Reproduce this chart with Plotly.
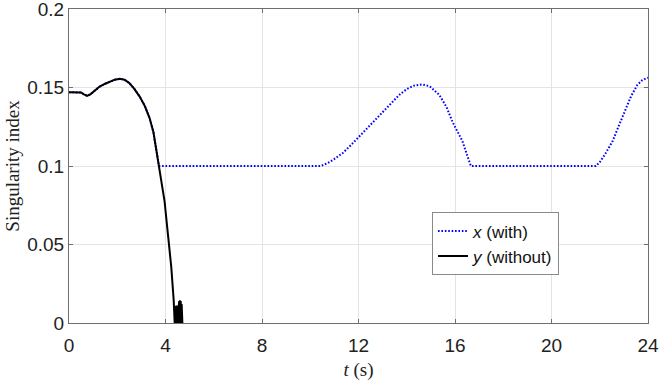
import plotly.graph_objects as go

# ---- data ----
# x (with): shared start, flat, hump, flat, rise
x_t = [0, 0.3, 0.5, 0.6, 0.75, 0.9, 1.1, 1.27, 1.5, 1.69, 1.9, 2.1, 2.3, 2.51, 2.7, 2.93,
       3.15, 3.34, 3.5, 3.6, 3.73,
       10.45, 10.8, 11.0, 11.35, 11.7, 12.04, 12.45, 12.87, 13.3, 13.69, 14.0, 14.3, 14.63,
       14.95, 15.35, 15.65, 15.9, 16.1, 16.31, 16.5, 16.66,
       21.84, 22.0, 22.2, 22.53, 22.8, 23.08, 23.3, 23.56, 23.75, 23.91, 24.0]
x_val = [0.147, 0.147, 0.1468, 0.1458, 0.1447, 0.1458, 0.1485, 0.1506, 0.1524, 0.1537, 0.155,
         0.1555, 0.155, 0.1527, 0.1493, 0.1442, 0.138, 0.1305, 0.1215, 0.112, 0.1,
         0.1, 0.1025, 0.1045, 0.1083, 0.1135, 0.1189, 0.1258, 0.1327, 0.1395, 0.1453, 0.149,
         0.1512, 0.152, 0.1508, 0.1453, 0.1375, 0.128, 0.1215, 0.1157, 0.107, 0.1,
         0.1, 0.1025, 0.107, 0.1157, 0.126, 0.1368, 0.1445, 0.1517, 0.1545, 0.1558, 0.1562]

# y (without): same start, then falls to zero and chatters near zero
y_t = [0, 0.3, 0.5, 0.6, 0.75, 0.9, 1.1, 1.27, 1.5, 1.69, 1.9, 2.1, 2.3, 2.51, 2.7, 2.93,
       3.15, 3.34, 3.5, 3.6, 3.73, 3.86, 3.96, 4.1, 4.24, 4.34, 4.38,
       4.39, 4.40, 4.41, 4.42, 4.43, 4.44, 4.45, 4.46, 4.47, 4.48, 4.49, 4.50, 4.51, 4.52,
       4.53, 4.54, 4.55, 4.56, 4.57, 4.58, 4.59, 4.60, 4.61, 4.62, 4.63, 4.64, 4.65, 4.66,
       4.67, 4.68, 4.69, 4.70]
y_val = [0.147, 0.147, 0.1468, 0.1458, 0.1447, 0.1458, 0.1485, 0.1506, 0.1524, 0.1537, 0.155,
         0.1555, 0.155, 0.1527, 0.1493, 0.1442, 0.138, 0.1305, 0.1215, 0.112, 0.1, 0.088,
         0.0777, 0.0566, 0.0355, 0.0144, 0.0,
         0.011, 0.0, 0.0105, 0.0, 0.011, 0.0, 0.0108, 0.0, 0.0112, 0.0, 0.0106, 0.0, 0.011, 0.0,
         0.0109, 0.0, 0.0111, 0.0, 0.014, 0.0, 0.0138, 0.0, 0.0142, 0.0, 0.014, 0.0, 0.0136,
         0.0, 0.012, 0.0, 0.009, 0.0]

x_ticks = [0, 4, 8, 12, 16, 20, 24]

sans = "Liberation Sans, Arial, sans-serif"
serif = "Liberation Serif, Times New Roman, serif"
axis_col = "#6e6e6e"

fig = go.Figure()
fig.add_trace(go.Scatter(x=x_t, y=x_val, mode="lines", name="<i>x</i> (with)",
                         line=dict(color="#0000ff", width=2, dash="1.6px,1.8px")))
fig.add_trace(go.Scatter(x=y_t, y=y_val, mode="lines", name="<i>y</i> (without)",
                         line=dict(color="#000000", width=2)))

fig.update_layout(
    width=660, height=381,
    margin=dict(l=69, r=12, t=9, b=58),
    paper_bgcolor="white", plot_bgcolor="white",
    showlegend=True,
    legend=dict(x=0.627, y=0.352, xanchor="left", yanchor="top",
                bgcolor="white", bordercolor="#8a8a8a", borderwidth=1,
                font=dict(family=sans, size=17, color="#111"),
                tracegroupgap=0, itemwidth=30),
)
fig.update_xaxes(range=[0, 24], tickvals=x_ticks, ticktext=[str(v) for v in x_ticks],
                 showgrid=True, gridcolor="#e4e4e4", gridwidth=1,
                 showline=True, linecolor=axis_col, linewidth=1, mirror="ticks",
                 ticks="inside", ticklen=4, tickcolor=axis_col,
                 zeroline=False, ticklabelstandoff=5, automargin=False,
                 ticklabeloverflow="allow",
                 tickfont=dict(family=sans, size=19, color="#222"),
                 title=dict(text="<i>t</i> (s)", font=dict(family=serif, size=19, color="#222"),
                            standoff=10))
fig.update_yaxes(range=[0, 0.2], tickmode="linear", tick0=0, dtick=0.05,
                 showgrid=True, gridcolor="#e4e4e4", gridwidth=1,
                 showline=True, linecolor=axis_col, linewidth=1, mirror="ticks",
                 ticks="inside", ticklen=4, tickcolor=axis_col,
                 zeroline=False, automargin=False, ticklabeloverflow="allow",
                 tickfont=dict(family=sans, size=19, color="#222"),
                 title=dict(text="Singularity index", font=dict(family=serif, size=19, color="#222"),
                            standoff=2))

fig.write_html("out.html")
